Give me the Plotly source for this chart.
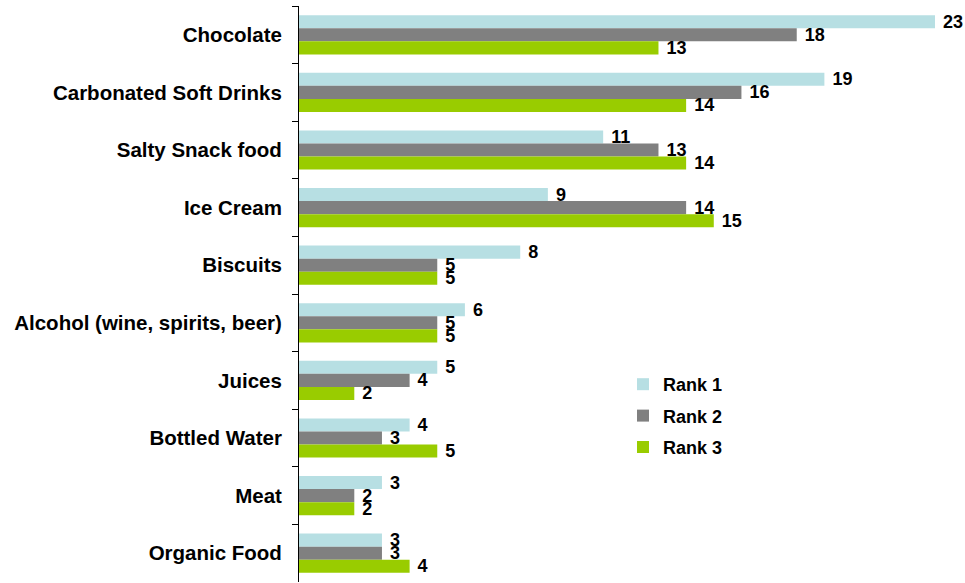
import plotly.graph_objects as go

categories = ["Chocolate", "Carbonated Soft Drinks", "Salty Snack food", "Ice Cream",
              "Biscuits", "Alcohol (wine, spirits, beer)", "Juices", "Bottled Water",
              "Meat", "Organic Food"]
rank1 = [23, 19, 11, 9, 8, 6, 5, 4, 3, 3]
rank2 = [18, 16, 13, 14, 5, 5, 4, 3, 2, 3]
rank3 = [13, 14, 14, 15, 5, 5, 2, 5, 2, 4]
series_names = ["Rank 1", "Rank 2", "Rank 3"]
colors = ["#B7DFE3", "#808080", "#99CC00"]

FONT = "Liberation Sans, Arial, sans-serif"

fig = go.Figure()
for i, (name, vals, col) in enumerate(zip(series_names, [rank1, rank2, rank3], colors)):
    fig.add_trace(go.Bar(
        y=categories, x=vals, name=name, orientation="h",
        marker=dict(color=col, line=dict(width=0)),
        text=vals, texttemplate=" %{x}", textposition="outside",
        textfont=dict(family=FONT, size=18, color="#000000", weight="bold"),
        cliponaxis=False, constraintext="none",
        legendgroup=name,
    ))

fig.update_layout(
    width=965, height=583,
    barmode="group", bargap=0.32, bargroupgap=0,
    plot_bgcolor="white", paper_bgcolor="white",
    margin=dict(l=299, r=30, t=6, b=1, autoexpand=False),
    font=dict(family=FONT, size=18, color="#000000"),
    showlegend=True,
    legend=dict(x=(623 - 299) / 636, y=0.375, xanchor="left", yanchor="top",
                font=dict(family=FONT, size=18, color="#000000", weight="bold"),
                tracegroupgap=5, bgcolor="rgba(0,0,0,0)"),
    xaxis=dict(range=[0, 23], visible=False, showgrid=False, zeroline=False,
               automargin=False),
    yaxis=dict(autorange="reversed", showline=True, linecolor="#000000", linewidth=1,
               ticks="outside", ticklen=6, tickcolor="#000000", tickson="boundaries",
               tickfont=dict(family=FONT, size=20.5, color="#000000", weight="bold"),
               ticklabelstandoff=12, showgrid=False, automargin=False),
)

fig.write_html("out.html", config={"displayModeBar": False},
               post_script="document.body.style.margin='0';document.body.style.overflow='hidden';")
